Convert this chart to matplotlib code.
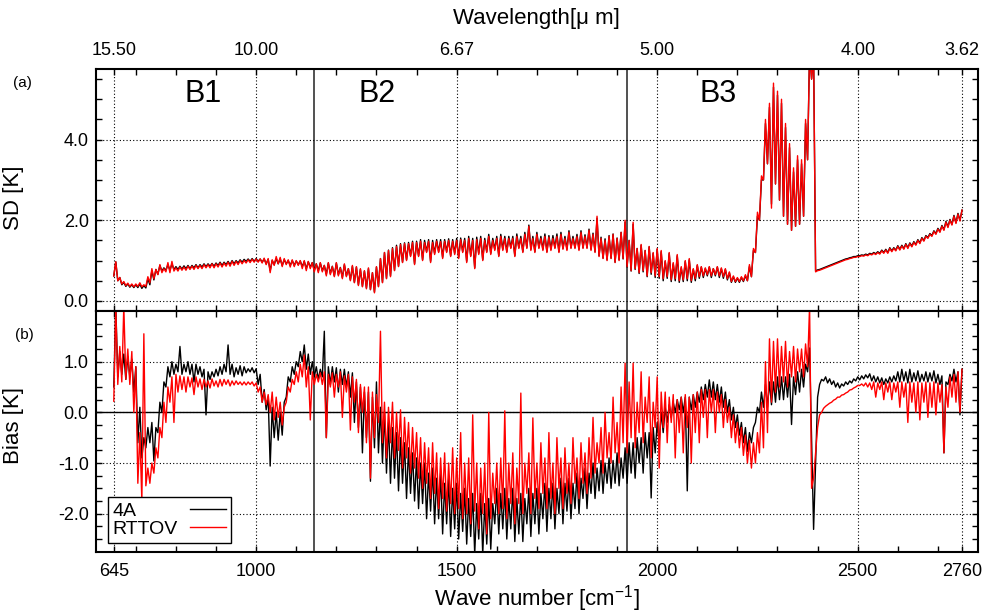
import numpy as np
import matplotlib
matplotlib.use("Agg")
import matplotlib.pyplot as plt
from matplotlib.ticker import FixedLocator, FuncFormatter

plt.rcParams['font.family'] = ['Liberation Sans', 'DejaVu Sans']
plt.rcParams['mathtext.fontset'] = 'custom'
plt.rcParams['mathtext.rm'] = 'Liberation Sans'
plt.rcParams['axes.unicode_minus'] = False

# wave number grid [cm-1], 5 cm-1 step
wn = np.arange(645, 2761, 5)

band_edges = [1145, 1925]
band_names = ["B1", "B2", "B3"]
band_label_wn = [869, 1302, 2153]

major_wn = [645, 1000, 1500, 2000, 2500, 2760]
minor_wn = list(range(700, 2701, 100))

# (a) standard deviation [K]
sd_4a = [
    0.62, 0.97, 0.50, 0.58, 0.40, 0.46, 0.36, 0.42, 0.34, 0.40, 0.33, 0.40, 0.33, 0.42, 0.31, 0.38, 0.32, 0.55, 0.40, 0.75,
    0.52, 0.78, 0.66, 0.88, 0.74, 0.82, 0.76, 0.90, 0.76, 0.92, 0.78, 0.85, 0.78, 0.86, 0.79, 0.87, 0.80, 0.88, 0.80, 0.88,
    0.82, 0.90, 0.82, 0.90, 0.84, 0.92, 0.85, 0.92, 0.86, 0.93, 0.86, 0.94, 0.88, 0.96, 0.88, 0.96, 0.90, 0.98, 0.90, 1.00,
    0.92, 1.00, 0.94, 1.02, 0.96, 1.03, 0.98, 1.04, 0.98, 1.05, 0.98, 1.05, 0.98, 1.04, 0.96, 1.04, 0.92, 1.03, 0.75, 1.00,
    0.90, 1.05, 0.92, 1.04, 0.88, 1.02, 0.92, 1.00, 0.88, 1.00, 0.88, 0.99, 0.90, 0.99, 0.85, 0.98, 0.80, 0.97, 0.84, 0.95,
    0.76, 0.92, 0.74, 0.94, 0.75, 0.88, 0.66, 0.94, 0.68, 0.86, 0.62, 0.94, 0.65, 0.83, 0.58, 0.90, 0.62, 0.80, 0.52, 0.86,
    0.46, 0.84, 0.40, 0.78, 0.36, 0.74, 0.32, 0.80, 0.28, 0.70, 0.22, 0.84, 0.36, 1.05, 0.46, 1.20, 0.56, 1.26, 0.62, 1.32,
    0.76, 1.38, 0.86, 1.42, 0.96, 1.44, 1.02, 1.45, 1.12, 1.48, 0.92, 1.48, 1.12, 1.52, 1.02, 1.50, 1.22, 1.52, 0.98, 1.50,
    1.18, 1.52, 1.22, 1.52, 1.08, 1.52, 1.22, 1.54, 1.12, 1.52, 1.18, 1.55, 1.08, 1.56, 1.22, 1.55, 0.98, 1.60, 1.12, 1.55,
    0.82, 1.58, 1.18, 1.60, 1.02, 1.55, 1.22, 1.65, 1.18, 1.55, 1.28, 1.60, 1.12, 1.65, 1.28, 1.60, 1.22, 1.60, 1.32, 1.60,
    1.12, 1.66, 1.32, 1.60, 1.22, 1.70, 1.32, 1.88, 1.28, 1.60, 1.22, 1.70, 1.32, 1.60, 1.28, 1.66, 1.22, 1.62, 1.28, 1.62,
    1.32, 1.66, 1.22, 1.70, 1.30, 1.60, 1.28, 1.74, 1.32, 1.60, 1.32, 1.65, 1.28, 1.74, 1.32, 1.64, 1.32, 1.78, 1.28, 1.68,
    1.22, 2.05, 1.12, 1.58, 1.06, 1.54, 1.02, 1.62, 1.06, 1.66, 0.96, 1.56, 1.02, 1.70, 1.04, 1.95, 0.84, 1.50, 0.74, 1.90,
    0.78, 1.30, 0.68, 1.38, 0.72, 1.25, 0.60, 1.34, 0.66, 1.18, 0.58, 1.28, 0.56, 1.22, 0.50, 0.98, 0.56, 1.18, 0.48, 0.92,
    0.50, 1.12, 0.46, 0.82, 0.48, 0.98, 0.50, 1.02, 0.46, 0.78, 0.50, 0.88, 0.56, 0.84, 0.58, 0.80, 0.62, 0.84, 0.58, 0.80,
    0.62, 0.84, 0.58, 0.80, 0.56, 0.78, 0.52, 0.70, 0.46, 0.60, 0.46, 0.56, 0.46, 0.58, 0.48, 0.62, 0.50, 0.85, 0.60, 1.25,
    1.20, 2.10, 2.00, 3.00, 3.00, 4.40, 3.40, 4.80, 2.40, 5.30, 2.90, 5.10, 2.50, 4.90, 2.10, 4.30, 1.90, 3.80, 1.75, 3.20,
    1.85, 3.50, 1.90, 3.40, 2.10, 4.40, 3.50, 6.20, 5.50, 6.20, 0.74, 0.77, 0.78, 0.80, 0.82, 0.84, 0.86, 0.88, 0.90, 0.92,
    0.94, 0.96, 0.98, 1.00, 1.02, 1.04, 1.05, 1.07, 1.08, 1.10, 1.10, 1.12, 1.12, 1.14, 1.13, 1.16, 1.14, 1.18, 1.16, 1.20,
    1.17, 1.22, 1.18, 1.26, 1.20, 1.28, 1.20, 1.32, 1.24, 1.32, 1.26, 1.37, 1.28, 1.38, 1.30, 1.42, 1.32, 1.44, 1.36, 1.47,
    1.40, 1.52, 1.44, 1.57, 1.50, 1.62, 1.57, 1.67, 1.62, 1.74, 1.67, 1.80, 1.72, 1.87, 1.77, 1.97, 1.84, 2.02, 1.90, 2.12,
    1.94, 2.17, 2.00, 2.25,
]

sd_rttov = [
    0.62, 0.97, 0.50, 0.58, 0.42, 0.48, 0.38, 0.44, 0.36, 0.42, 0.35, 0.42, 0.36, 0.45, 0.35, 0.40, 0.36, 0.60, 0.45, 0.80,
    0.55, 0.78, 0.65, 0.90, 0.70, 0.80, 0.72, 0.95, 0.70, 0.98, 0.74, 0.82, 0.74, 0.84, 0.76, 0.84, 0.76, 0.86, 0.78, 0.86,
    0.78, 0.88, 0.80, 0.88, 0.80, 0.90, 0.82, 0.90, 0.82, 0.92, 0.82, 0.92, 0.84, 0.94, 0.84, 0.94, 0.86, 0.96, 0.86, 0.98,
    0.88, 0.98, 0.90, 1.00, 0.92, 1.00, 0.94, 1.02, 0.95, 1.03, 0.96, 1.04, 0.96, 1.04, 0.94, 1.06, 0.90, 1.05, 0.70, 1.02,
    0.88, 1.10, 0.92, 1.08, 0.85, 1.05, 0.90, 1.02, 0.84, 1.02, 0.85, 1.00, 0.88, 1.00, 0.80, 1.00, 0.75, 0.98, 0.80, 0.95,
    0.72, 0.92, 0.70, 0.95, 0.72, 0.88, 0.62, 0.95, 0.65, 0.85, 0.60, 0.95, 0.62, 0.82, 0.55, 0.92, 0.60, 0.80, 0.50, 0.88,
    0.45, 0.85, 0.38, 0.80, 0.35, 0.75, 0.30, 0.82, 0.28, 0.70, 0.20, 0.85, 0.35, 1.05, 0.45, 1.20, 0.55, 1.25, 0.60, 1.30,
    0.75, 1.35, 0.85, 1.40, 0.95, 1.42, 1.00, 1.42, 1.10, 1.45, 0.90, 1.45, 1.10, 1.48, 1.00, 1.45, 1.20, 1.48, 0.95, 1.45,
    1.15, 1.48, 1.20, 1.47, 1.05, 1.48, 1.20, 1.50, 1.10, 1.48, 1.15, 1.50, 1.05, 1.52, 1.20, 1.50, 0.95, 1.55, 1.10, 1.50,
    0.80, 1.52, 1.15, 1.55, 1.00, 1.50, 1.20, 1.60, 1.15, 1.50, 1.25, 1.55, 1.10, 1.60, 1.25, 1.55, 1.20, 1.55, 1.30, 1.55,
    1.10, 1.60, 1.30, 1.55, 1.20, 1.65, 1.30, 1.85, 1.25, 1.55, 1.20, 1.65, 1.30, 1.55, 1.25, 1.60, 1.20, 1.58, 1.25, 1.55,
    1.30, 1.60, 1.20, 1.65, 1.28, 1.55, 1.25, 1.70, 1.30, 1.55, 1.30, 1.60, 1.25, 1.70, 1.30, 1.60, 1.30, 1.75, 1.25, 1.65,
    1.20, 2.10, 1.10, 1.55, 1.05, 1.50, 1.00, 1.60, 1.05, 1.65, 0.95, 1.55, 1.00, 1.70, 1.05, 2.00, 0.85, 1.50, 0.75, 1.95,
    0.80, 1.30, 0.70, 1.40, 0.75, 1.25, 0.62, 1.35, 0.70, 1.20, 0.62, 1.30, 0.60, 1.25, 0.55, 1.00, 0.60, 1.20, 0.52, 0.95,
    0.55, 1.15, 0.50, 0.85, 0.52, 1.00, 0.55, 1.05, 0.50, 0.80, 0.55, 0.90, 0.60, 0.85, 0.62, 0.82, 0.65, 0.85, 0.62, 0.80,
    0.65, 0.85, 0.62, 0.82, 0.60, 0.80, 0.55, 0.72, 0.48, 0.62, 0.48, 0.58, 0.48, 0.60, 0.50, 0.65, 0.50, 0.90, 0.60, 1.30,
    1.20, 2.20, 2.00, 3.10, 3.00, 4.50, 3.40, 4.90, 2.30, 5.40, 2.90, 5.20, 2.50, 5.00, 2.10, 4.40, 1.90, 3.90, 1.75, 3.30,
    1.85, 3.60, 1.90, 3.50, 2.10, 4.50, 3.50, 6.20, 5.50, 6.20, 0.72, 0.75, 0.76, 0.78, 0.80, 0.82, 0.84, 0.86, 0.88, 0.90,
    0.92, 0.94, 0.96, 0.98, 1.00, 1.02, 1.03, 1.05, 1.06, 1.08, 1.08, 1.10, 1.10, 1.12, 1.11, 1.14, 1.12, 1.16, 1.14, 1.18,
    1.15, 1.20, 1.16, 1.24, 1.18, 1.26, 1.18, 1.30, 1.22, 1.30, 1.24, 1.35, 1.26, 1.36, 1.28, 1.40, 1.30, 1.42, 1.34, 1.45,
    1.38, 1.50, 1.42, 1.55, 1.48, 1.60, 1.55, 1.65, 1.60, 1.72, 1.65, 1.78, 1.70, 1.85, 1.75, 1.95, 1.82, 2.00, 1.88, 2.10,
    1.92, 2.15, 1.98, 2.25,
]

# (b) bias [K]
bias_4a = [
    0.50, 2.10, 0.70, 1.20, 0.75, 1.15, 0.65, 1.10, 0.70, 1.05, 0.40, 0.90, -0.60, 0.10, -0.90, -0.50, -0.70, -0.30, -0.60, -0.20,
    -0.96, -0.30, -0.40, 0.20, 0.00, 0.60, 0.50, 0.90, 0.70, 1.00, 0.75, 0.95, 0.80, 1.30, 0.75, 0.95, 0.80, 1.00, 0.75, 0.95,
    0.60, 0.95, 0.75, 0.90, 0.70, 0.85, -0.05, 0.80, 0.65, 0.80, 0.70, 0.85, 0.72, 0.90, 0.75, 0.95, 0.80, 1.33, 0.75, 0.95,
    0.70, 0.88, 0.75, 0.92, 0.72, 0.90, 0.78, 0.86, 0.80, 0.88, 0.78, 0.86, 0.55, 0.75, 0.20, 0.45, 0.05, 0.30, -1.06, 0.10,
    -0.50, 0.00, -0.55, 0.00, -0.45, 0.20, 0.30, 0.70, 0.60, 0.90, 0.75, 1.00, 0.90, 1.20, 1.00, 1.33, 0.85, 1.15, 0.75, 1.00,
    0.70, 0.90, 0.65, 0.85, 0.70, 1.60, -0.50, 0.90, 0.55, 0.90, 0.60, 0.88, 0.40, 0.85, 0.55, 0.85, 0.50, 0.80, 0.30, 0.78,
    -0.20, 0.60, -0.30, 0.50, -0.80, 0.40, -0.50, 0.40, -1.36, 0.30, -0.70, 0.60, -0.80, 0.10, -1.00, 0.00, -1.20, -0.20, -1.40, -0.30,
    -1.30, -0.40, -1.55, -0.50, -1.40, -0.60, -1.70, -0.70, -1.60, -0.80, -1.75, -0.90, -1.90, -1.00, -1.80, -1.00, -2.10, -1.20, -1.95, -1.10,
    -2.20, -1.30, -2.10, -1.20, -2.40, -1.40, -2.20, -1.30, -2.45, -1.50, -2.30, -1.40, -2.50, -1.60, -2.35, -1.50, -2.60, -1.70, -2.45, -1.60,
    -2.80, -1.80, -2.50, -1.60, -2.80, -1.80, -2.60, -1.70, -2.70, -1.80, -2.20, -1.50, -2.40, -1.60, -2.30, -1.50, -2.50, -1.70, -2.30, -1.50,
    -2.55, -1.70, -2.40, -1.60, -2.55, -1.70, -2.20, -1.50, -2.45, -1.60, -2.20, -1.50, -2.40, -1.60, -2.10, -1.40, -2.35, -1.50, -2.10, -1.40,
    -2.30, -1.50, -2.00, -1.30, -2.20, -1.40, -1.95, -1.30, -2.10, -1.40, -1.90, -1.20, -2.00, -1.30, -1.70, -1.10, -1.90, -1.20, -1.60, -1.00,
    -1.70, -1.10, -1.55, -0.95, -1.60, -1.00, -1.40, -0.90, -1.50, -0.95, -1.40, -0.80, -1.45, -0.90, -1.30, -0.70, -1.40, -0.60, -1.20, -0.60,
    -1.30, -0.50, -1.00, -0.50, -1.20, -0.40, -0.90, -0.40, -1.69, -0.30, -0.80, -0.20, -0.60, 0.00, -0.40, 0.10, -0.20, 0.15, -0.10, 0.20,
    0.00, 0.25, 0.05, 0.30, 0.00, 0.30, -1.55, 0.30, 0.05, 0.35, 0.10, 0.40, 0.20, 0.50, 0.25, 0.55, 0.30, 0.64, 0.30, 0.60,
    0.25, 0.55, 0.20, 0.50, 0.10, 0.40, 0.00, 0.25, -0.15, 0.10, -0.30, -0.05, -0.45, -0.20, -0.60, -0.30, -0.77, -0.40, -0.60, -0.30,
    -0.20, 0.10, 0.00, 0.40, 0.10, 0.55, 0.10, 0.60, 0.15, 0.60, 0.20, 0.70, 0.25, 0.70, 0.25, 0.70, 0.30, 0.75, -0.24, 0.70,
    0.35, 0.80, 0.40, 0.85, 0.50, 0.95, 0.80, 1.27, -0.50, -2.31, -1.00, 0.30, 0.55, 0.65, 0.62, 0.70, 0.58, 0.66, 0.55, 0.62,
    0.50, 0.58, 0.48, 0.56, 0.52, 0.60, 0.55, 0.62, 0.58, 0.66, 0.62, 0.70, 0.64, 0.72, 0.66, 0.74, 0.68, 0.76, 0.62, 0.72,
    0.60, 0.70, 0.58, 0.68, 0.55, 0.66, 0.58, 0.70, 0.60, 0.72, 0.62, 0.80, 0.60, 0.85, 0.62, 0.80, 0.58, 0.85, 0.60, 0.78,
    0.62, 0.82, 0.60, 0.75, 0.62, 0.80, 0.60, 0.78, 0.62, 0.82, 0.58, 0.75, 0.55, 0.72, -0.80, 0.60, 0.55, 0.75, 0.62, 0.85,
    0.60, 0.80, -0.05, 0.85,
]

bias_rttov = [
    0.22, 2.10, 0.55, 1.30, 0.60, 2.10, 0.65, 1.25, 0.55, 1.20, 0.00, 0.90, -1.40, -0.40, -1.75, 1.55, -1.45, -1.10, -1.40, -1.00,
    -1.20, -0.70, -0.90, -0.30, -0.50, 0.20, -0.20, 0.50, 0.20, 0.70, -0.20, 0.75, 0.40, 0.72, 0.45, 0.70, 0.40, 0.70, 0.50, 0.68,
    0.35, 0.70, 0.50, 0.66, 0.45, 0.65, 0.50, 0.62, 0.48, 0.66, 0.52, 0.62, 0.50, 0.65, 0.52, 0.65, 0.55, 0.64, 0.52, 0.62,
    0.54, 0.62, 0.55, 0.60, 0.54, 0.60, 0.54, 0.60, 0.55, 0.60, 0.52, 0.58, 0.40, 0.50, 0.20, 0.40, 0.15, 0.35, 0.00, 0.40,
    -0.15, 0.30, -0.10, 0.20, -0.25, 0.10, 0.20, 0.50, 0.40, 0.65, 0.55, 0.80, 0.60, 0.95, 0.70, 1.13, 0.50, 0.90, -0.15, 0.80,
    0.55, 0.75, 0.60, 0.78, 0.55, 0.80, -0.50, 0.75, 0.50, 0.78, 0.30, 0.75, 0.50, 0.80, -0.10, 0.72, 0.40, 0.75, -0.35, 0.70,
    0.20, 0.65, -0.40, 0.55, 0.00, 0.50, -0.60, 0.50, -1.30, 0.40, -0.50, 0.35, -0.20, 1.60, -0.60, 0.20, -0.90, 0.10, -0.60, 0.20,
    -0.90, 0.00, -0.75, 0.05, -1.10, -0.10, -0.90, -0.20, -1.20, -0.30, -1.10, -0.40, -1.30, -0.50, -1.50, -0.60, -1.40, -0.70, -1.70, -0.60,
    -1.60, -0.80, -1.90, -0.90, -1.70, -0.80, -1.95, -1.00, -1.80, -0.70, -2.00, -0.90, -1.90, -0.40, -2.10, -1.00, -2.00, -0.90, -2.20, -0.05,
    -1.95, -1.00, -2.30, -1.10, -2.00, -1.00, -2.40, 0.00, -2.10, -1.20, -1.80, -1.00, -2.00, -0.90, -1.90, 0.03, -2.10, -1.00, -1.80, -0.80,
    -2.20, -1.10, -1.80, 0.38, -2.00, -1.00, -1.60, -0.80, -2.00, -0.11, -1.70, -1.00, -1.90, -0.60, -1.60, -0.90, -1.90, -0.40, -1.70, -1.00,
    -2.00, -0.50, -1.50, -0.90, -1.90, -0.70, -1.60, -1.00, -1.80, -0.50, -1.40, -0.90, -1.70, -0.60, -1.40, -0.80, -1.60, -0.50, -1.30, -0.10,
    -1.20, -0.60, -1.00, -0.30, -1.20, 0.00, -0.90, -0.40, -1.00, 0.30, -0.80, -0.20, -1.00, 0.50, -0.60, 0.97, -0.80, 0.60, -0.50, 0.97,
    -0.70, 0.20, -0.40, 0.80, -0.60, 0.30, -0.20, 0.70, -0.90, 0.20, -0.30, 0.70, -1.10, 0.40, -0.30, 0.40, -0.60, 0.30, -0.20, 0.35,
    -0.90, 0.25, -0.40, 0.30, -0.80, 0.35, -0.30, 0.30, -1.00, 0.35, -0.40, 0.40, -0.60, 0.45, -0.10, 0.45, -0.50, 0.45, 0.00, 0.45,
    -0.40, 0.40, 0.00, 0.35, -0.30, 0.25, -0.20, 0.10, -0.50, -0.05, -0.60, -0.20, -0.70, -0.30, -0.85, -0.45, -1.00, -0.55, -1.10, -0.60,
    -1.00, -0.40, -0.80, 0.20, -0.70, 1.00, -0.40, 1.45, 0.20, 1.40, 0.40, 1.45, 0.50, 1.30, 0.60, 1.40, 0.50, 1.20, 0.70, 1.30,
    0.60, 1.25, 0.80, 1.25, 0.70, 1.35, 0.90, 2.10, -1.50, -1.30, -0.80, -0.30, -0.05, 0.00, 0.08, 0.12, 0.15, 0.18, 0.20, 0.24,
    0.26, 0.30, 0.30, 0.34, 0.35, 0.38, 0.40, 0.44, 0.45, 0.48, 0.50, 0.53, 0.53, 0.56, 0.52, 0.58, 0.50, 0.58, 0.45, 0.60,
    0.30, 0.58, 0.45, 0.60, 0.25, 0.58, 0.40, 0.60, 0.25, 0.58, 0.40, 0.60, 0.10, 0.60, 0.30, 0.58, -0.20, 0.60, 0.20, 0.58,
    0.00, 0.60, -0.15, 0.58, 0.20, 0.60, -0.10, 0.58, 0.10, 0.60, -0.05, 0.58, 0.20, 0.55, -0.80, 0.50, 0.10, 0.70, 0.30, 0.75,
    0.20, 0.80, 0.00, 0.85,
]

for s in (sd_4a, sd_rttov, bias_4a, bias_rttov):
    assert len(s) == len(wn), len(s)

fig = plt.figure(figsize=(9.91, 6.14), dpi=100)
ax1 = fig.add_axes([0.0966, 0.4935, 0.8903, 0.3941])
ax2 = fig.add_axes([0.0966, 0.1015, 0.8903, 0.3920])

for ax in (ax1, ax2):
    ax.set_xlim(600, 2800)
    ax.xaxis.set_major_locator(FixedLocator(major_wn))
    ax.xaxis.set_minor_locator(FixedLocator(minor_wn))
    ax.tick_params(which='both', direction='in', top=True, right=True,
                   length=4, width=1, labelsize=13)
    ax.grid(True, which='major', linestyle=(0, (1, 2)), color='black', linewidth=0.8)
    for e in band_edges:
        ax.axvline(e, color='#222222', linewidth=1.1, zorder=1.5)
    for sp in ax.spines.values():
        sp.set_linewidth(1.5)

# (a) SD
ax1.plot(wn, sd_4a, color='black', linewidth=1.0)
ax1.plot(wn, sd_rttov, color='red', linewidth=1.0)
ax1.set_ylim(-0.25, 5.75)
ax1.yaxis.set_major_locator(FixedLocator([0, 2, 4]))
ax1.yaxis.set_minor_locator(FixedLocator(np.arange(-0.0, 5.51, 0.5)))
ax1.yaxis.set_major_formatter(FuncFormatter(lambda v, p: f"{v:.1f}"))
ax1.tick_params(axis='x', labelbottom=False, labeltop=True, pad=7)
ax1.tick_params(axis='y', pad=5)
ax1.xaxis.set_major_formatter(FuncFormatter(lambda v, p: f"{1e4 / v:.2f}"))
ax1.set_xlabel("Wavelength[\u03bc m]", fontsize=16)
ax1.xaxis.set_label_position('top')
ax1.xaxis.set_label_coords(0.5, 1.186)
ax1.set_ylabel("SD [K]", fontsize=16)
ax1.yaxis.set_label_coords(-0.081, 0.467)
for name, pos in zip(band_names, band_label_wn):
    ax1.text(pos, 5.14, name, fontsize=22, ha='center', va='center')

# (b) Bias
ax2.axhline(0, color='black', linewidth=1.0, zorder=1.5)
ax2.plot(wn, bias_4a, color='black', linewidth=1.0, label='4A')
ax2.plot(wn, bias_rttov, color='red', linewidth=1.0, label='RTTOV')
ax2.set_ylim(-2.75, 2.0)
ax2.yaxis.set_major_locator(FixedLocator([-2, -1, 0, 1]))
ax2.yaxis.set_minor_locator(FixedLocator(np.arange(-2.5, 1.76, 0.25)))
ax2.yaxis.set_major_formatter(FuncFormatter(lambda v, p: f"{v:.1f}"))
ax2.tick_params(axis='x', pad=8)
ax2.tick_params(axis='y', pad=5)
ax2.set_xlabel("Wave number [cm$^{-1}$]", fontsize=16)
ax2.xaxis.set_label_coords(0.5, -0.13)
ax2.set_ylabel("Bias [K]", fontsize=16)
ax2.yaxis.set_label_coords(-0.081, 0.523)
leg = ax2.legend(loc='lower left', bbox_to_anchor=(0.0136, 0.036), borderaxespad=0,
                 markerfirst=False, fancybox=False, edgecolor='black', framealpha=1,
                 fontsize=14, handlelength=1.9, handletextpad=0.6, labelspacing=0.05,
                 borderpad=0.25)
leg.get_frame().set_linewidth(1.0)

fig.text(0.023, 0.865, "(a)", fontsize=11, ha='center', va='center')
fig.text(0.025, 0.455, "(b)", fontsize=11, ha='center', va='center')

# left-align legend labels while keeping the line samples in one column
fig.canvas.draw()
renderer = fig.canvas.get_renderer()
rows = leg._legend_handle_box.get_children()[0].get_children()
widths = [t.get_window_extent(renderer).width for t in leg.get_texts()]
for row, w in zip(rows, widths):
    row.sep += (max(widths) - w) / renderer.points_to_pixels(1.0)

fig.savefig("out.png", dpi=100)
